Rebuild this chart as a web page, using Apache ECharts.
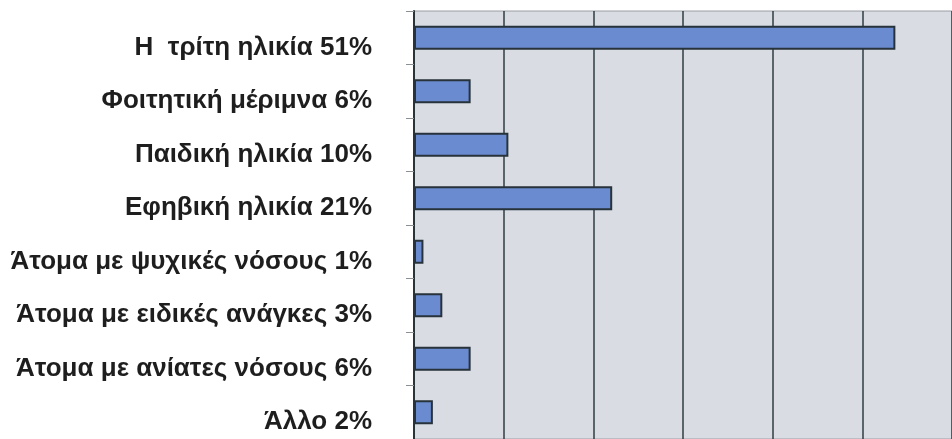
<!DOCTYPE html>
<html>
<head>
<meta charset="utf-8">
<script src="https://cdn.jsdelivr.net/npm/echarts@6/dist/echarts.min.js"></script>
<style>
html,body{margin:0;padding:0;background:#ffffff;}
#chart{width:952px;height:439px;}
</style>
</head>
<body>
<div id="chart"></div>
<script>
var categories = [
  "Η  τρίτη ηλικία 51%",
  "Φοιτητική μέριμνα 6%",
  "Παιδική ηλικία 10%",
  "Εφηβική ηλικία 21%",
  "Άτομα με ψυχικές νόσους 1%",
  "Άτομα με ειδικές ανάγκες 3%",
  "Άτομα με ανίατες νόσους 6%",
  "Άλλο 2%"
];
var values = [51, 6, 10, 21, 1, 3, 6, 2];

var chart = echarts.init(document.getElementById('chart'), null, {renderer: 'canvas'});
chart.setOption({
  animation: false,
  backgroundColor: '#ffffff',
  grid: {
    left: 414, top: 11, width: 544, height: 437,
    show: true, backgroundColor: '#d9dde3', borderColor: '#9a9ea4', borderWidth: 1
  },
  xAxis: {
    type: 'value', min: 0, max: 57, interval: 9.5,
    axisLabel: {show: false}, axisTick: {show: false}, axisLine: {show: false},
    splitLine: {show: true, lineStyle: {color: '#2e3c42', width: 1.5}}
  },
  yAxis: {
    type: 'category', data: categories, inverse: true,
    axisLine: {show: true, lineStyle: {color: '#2a3438', width: 2}},
    axisTick: {show: true, length: 8, lineStyle: {color: '#8a8f94', width: 1}},
    axisLabel: {
      margin: 42, fontFamily: 'Liberation Sans, Arial, sans-serif', fontWeight: 'bold',
      fontSize: 26, color: '#1e1e1e', verticalAlign: 'top', lineHeight: 20
    }
  },
  series: [{
    type: 'bar', data: values, barWidth: 24,
    itemStyle: {color: '#6a8bcf', borderColor: '#27323a', borderWidth: 2}
  }]
});
</script>
</body>
</html>
